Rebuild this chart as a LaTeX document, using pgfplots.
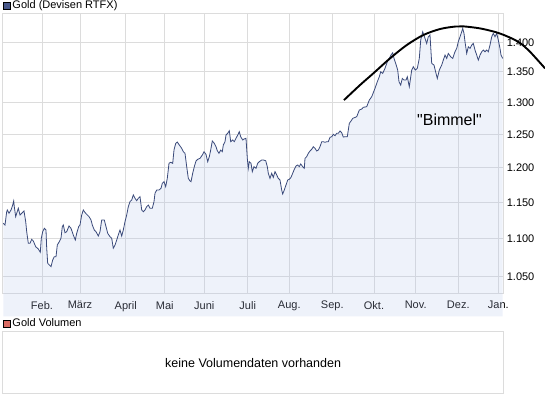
\documentclass[border=0pt]{standalone}
\usepackage{pgfplots}
\pgfplotsset{compat=1.18}
\usepackage{pgfplotstable}
\usepackage{fontspec}
\setmainfont{Liberation Sans}
\newcommand\dq{\XeTeXglyph\XeTeXcharglyph"22\relax}
\definecolor{goldline}{RGB}{58,74,122}
\definecolor{goldfill}{RGB}{180,196,235}
\definecolor{gridgray}{RGB}{220,220,220}
\definecolor{legblue}{RGB}{72,88,138}
\definecolor{legred}{RGB}{218,108,100}

\pgfplotstableread{
x y
3.3 1.1211
5 1.1188
6.7 1.1371
7.3 1.1395
9 1.1349
11 1.1395
12.7 1.1465
13.7 1.1522
14.3 1.1441
15.7 1.1303
16.7 1.1349
18.3 1.1419
20 1.1326
21.7 1.1349
24 1.1381
25.7 1.1234
26.7 1.1096
28.3 1.0939
30 1.0939
31.7 1.0993
33.3 1.0970
35.7 1.0893
38.3 1.0863
40.3 1.0819
41.3 1.1007
42.7 1.1096
44.3 1.1142
46 1.1119
46.7 1.0873
47.7 1.0674
49.3 1.0652
51 1.0630
52.7 1.0717
54.3 1.0761
56 1.0761
57.3 1.0916
59.3 1.0961
61 1.1007
62.3 1.1165
63.3 1.1188
65 1.1082
66.7 1.1096
69 1.1174
71 1.1142
73.3 1.1051
75.3 1.0984
76.7 1.1074
78.7 1.1165
80 1.1188
81.7 1.1326
83.3 1.1395
85 1.1360
87.3 1.1326
89 1.1303
91 1.1257
92.3 1.1188
94.3 1.1119
96 1.1096
98.3 1.1037
100 1.1096
101.7 1.1257
104.3 1.1257
106 1.1165
107.7 1.1074
110 1.1028
111.7 1.1007
113.3 1.0873
115 1.0916
116.7 1.0984
118.3 1.1051
120 1.1119
121.7 1.1037
123.3 1.1119
125 1.1234
126.7 1.1326
128.3 1.1441
130 1.1512
131.7 1.1536
133.3 1.1607
135 1.1560
136.7 1.1526
138.3 1.1560
140 1.1583
141.7 1.1395
143.3 1.1371
145 1.1395
146.7 1.1441
148.3 1.1465
150 1.1419
152.3 1.1419
154 1.1512
155 1.1631
156.7 1.1678
159 1.1678
161 1.1702
162.3 1.1774
164 1.1798
165.7 1.1726
167.3 1.1847
169 1.2067
170.7 1.2082
172.7 1.2067
174 1.2265
175.7 1.2366
177.3 1.2386
179.3 1.2341
181.7 1.2291
183.3 1.2240
185 1.2216
186.7 1.2017
188.3 1.1847
190 1.1808
191 1.1798
192.7 1.1920
194.3 1.2017
196 1.2101
197.7 1.2126
200 1.2141
202.3 1.2190
204 1.2240
206 1.2200
207.7 1.2091
209.3 1.2165
210.7 1.2265
212.3 1.2402
214.3 1.2366
216 1.2315
217.3 1.2255
219 1.2216
220.7 1.2265
222.3 1.2240
223.3 1.2341
225 1.2391
226 1.2493
227.7 1.2519
229.3 1.2559
230.7 1.2391
232.7 1.2417
234.3 1.2391
236 1.2443
237.7 1.2493
239.3 1.2544
240.7 1.2467
242.7 1.2417
244 1.2432
246 1.2443
247.3 1.2141
248.3 1.1993
249.3 1.2091
251 1.2067
252.3 1.1944
254 1.2017
256 1.1993
257.7 1.2067
259.3 1.2091
261.7 1.2116
263.3 1.2116
265.7 1.2106
267.3 1.2017
268.3 1.1920
270 1.1847
271.7 1.1920
273.3 1.1861
275 1.1944
276.7 1.1895
278.3 1.1847
280 1.1822
281.7 1.1678
282.7 1.1621
284.3 1.1678
286 1.1750
287.7 1.1822
289.3 1.1832
291 1.1861
292.7 1.1920
294.3 1.1978
296 1.2027
297.7 1.2042
299.3 1.2017
300.7 1.2057
302.7 1.2017
304.3 1.1993
305 1.2141
306.7 1.2165
308.3 1.2216
310 1.2250
311.7 1.2276
313.3 1.2315
315 1.2291
316.7 1.2250
318.3 1.2265
320 1.2315
321.7 1.2391
323.3 1.2391
325 1.2382
326.7 1.2391
328.3 1.2391
330 1.2458
331.7 1.2467
333.3 1.2504
335 1.2483
336.7 1.2519
338.3 1.2519
340 1.2555
341.7 1.2529
343.3 1.2462
345 1.2467
347.3 1.2467
349.3 1.2673
351.7 1.2725
352.7 1.2751
356.7 1.2777
359.3 1.2882
361.7 1.2898
363.3 1.2925
366.7 1.2935
369.3 1.3041
371.7 1.3094
375 1.3230
377.3 1.3337
379.3 1.3419
380.7 1.3502
382.7 1.3475
385 1.3558
387.3 1.3669
389.3 1.3725
391 1.3781
392.7 1.3820
394 1.3725
395.7 1.3641
397.7 1.3530
399 1.3337
400.7 1.3283
402.3 1.3392
404 1.3365
406 1.3365
407.3 1.3419
409.3 1.3255
411.7 1.3530
413.3 1.3585
415.3 1.3530
417.3 1.3558
419.3 1.3725
420.7 1.4037
422.7 1.4181
425 1.4066
426.7 1.3980
428.3 1.4094
430 1.4124
431.7 1.3641
434 1.3613
436 1.3475
437.3 1.3392
439.3 1.3530
441.7 1.3613
443.3 1.3697
445 1.3781
446.7 1.3725
448.3 1.3809
450.7 1.3752
452.7 1.3725
455 1.3837
456.7 1.3894
458.3 1.4008
460 1.4094
461.7 1.4181
462.7 1.4240
464 1.4153
465 1.4008
466.7 1.3809
468.3 1.3922
470 1.3894
471.7 1.3951
473.3 1.3980
475 1.3866
476.7 1.3781
478.3 1.3697
480 1.3781
481.7 1.3837
483.3 1.3866
485 1.3837
486.7 1.3866
488.3 1.3837
490 1.3951
491.7 1.4094
493.3 1.4153
495 1.4094
496.7 1.4153
498.3 1.4037
500 1.3894
501 1.3781
502.7 1.3725
}\golddata

\pgfplotstableread{
x y
344 1.3041
360 1.3283
373.3 1.3475
390 1.3725
406.7 1.3951
423.3 1.4124
440 1.4229
455 1.4272
463.3 1.4276
480 1.4240
496.7 1.4170
510 1.4080
520 1.3987
530 1.3837
545 1.3558
}\bimmel

\begin{document}
\begin{tikzpicture}
\useasboundingbox (0,0) rectangle (545bp,398bp);
\begin{axis}[
  at={(2.7bp,104.7bp)}, anchor=south west,
  scale only axis, width=500.6bp, height=280bp,
  xmin=2.7, xmax=503.3,
  ymode=log, ymin=1.0288, ymax=1.4506,
  clip=false,
  xtick={42,80,125.7,164.7,204.3,247.7,289.3,332.3,374,415.7,458.3,498.3},
  xticklabels={Feb.,März,April,Mai,Juni,Juli,Aug.,Sep.,Okt.,Nov.,Dez.,Jan.},
  ytick={1.05,1.1,1.15,1.2,1.25,1.3,1.35,1.4},
  yticklabels={1.050,1.100,1.150,1.200,1.250,1.300,1.350,1.400},
  yticklabel pos=right,
  major tick length=0pt,
  tick style={draw=none},
  grid=major,
  major grid style={gridgray, line width=0.8bp},
  axis line style={gridgray, line width=0.8bp},
  ticklabel style={font=\fontsize{11bp}{13bp}\selectfont, text=black},
  xticklabel style={yshift=-4.5bp},
  legend style={at={(axis description cs:0,1)}, anchor=south west, draw=none, fill=none,
    inner xsep=0pt, inner ysep=1bp, font=\fontsize{11bp}{13bp}\selectfont},
  legend cell align=left,
  legend image code/.code={\draw[fill=legblue,draw=black,line width=0.6bp] (0bp,-3.5bp) rectangle (7bp,3.5bp);},
]
\addplot[draw=none, fill=goldfill, fill opacity=0.227, forget plot] table[x=x,y=y]{\golddata} \closedcycle;
\addplot[goldline, line width=0.8bp] table[x=x,y=y]{\golddata};
\addlegendentry{Gold (Devisen RTFX)}
\addplot[black, line width=1.9bp, smooth, forget plot] table[x=x,y=y]{\bimmel};
\node[font=\fontsize{16bp}{18bp}\selectfont] at (axis cs:449.5,1.2735) {\dq Bimmel\dq};
\end{axis}
\begin{axis}[
  at={(2.7bp,4.2bp)}, anchor=south west,
  scale only axis, width=500.8bp, height=62.3bp,
  xmin=0, xmax=1, ymin=0, ymax=1,
  xtick=\empty, ytick=\empty,
  axis line style={gridgray, line width=0.8bp},
  legend style={at={(axis description cs:0,1)}, anchor=south west, draw=none, fill=none,
    inner xsep=0pt, inner ysep=1bp, font=\fontsize{11bp}{13bp}\selectfont},
  legend cell align=left,
  legend image code/.code={\draw[fill=legred,draw=black,line width=0.6bp] (0bp,-3.5bp) rectangle (7bp,3.5bp);},
]
\addlegendimage{legred}
\addlegendentry{Gold Volumen}
\node[font=\fontsize{12.5bp}{14bp}\selectfont] at (axis cs:0.5,0.5) {keine Volumendaten vorhanden};
\end{axis}
\end{tikzpicture}
\end{document}
